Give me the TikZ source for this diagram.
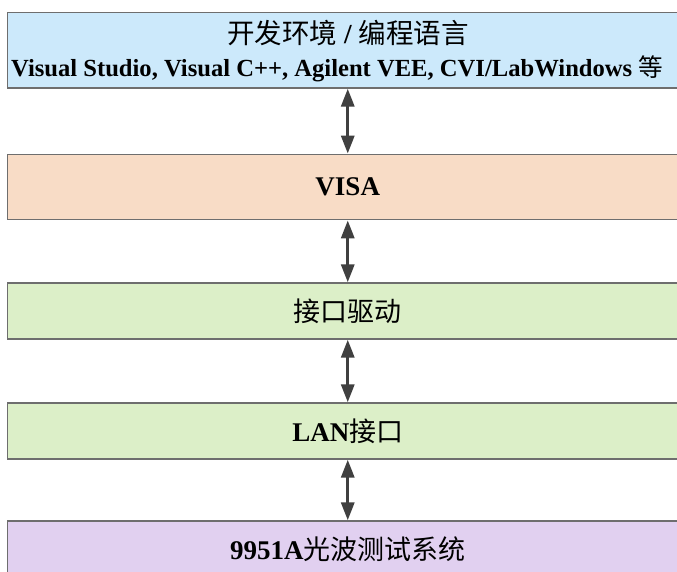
\documentclass[tikz,border=0pt]{standalone}
\usepackage{fontspec}
\setmainfont{Liberation Serif}
\newfontfamily\cjk{Noto Sans CJK SC}
\usetikzlibrary{arrows.meta}
\definecolor{bordergray}{RGB}{110,110,110}
\definecolor{arrowgray}{RGB}{64,64,64}
\definecolor{boxblue}{RGB}{204,233,251}
\definecolor{boxpeach}{RGB}{248,220,198}
\definecolor{boxgreen}{RGB}{220,239,200}
\definecolor{boxpurple}{RGB}{225,208,240}
\tikzset{
  layer/.style={draw=bordergray, line width=1.3pt, rectangle, minimum width=680.5pt, inner sep=0pt, font=\fontsize{27}{32}\selectfont},
  dblarrow/.style={draw=arrowgray, line width=3.2pt, {Triangle[length=18pt,width=13pt]}-{Triangle[length=18pt,width=13pt]}},
  lbl/.style={inner sep=0pt}
}
\begin{document}
\begin{tikzpicture}[x=1pt,y=-1pt]
\clip (0,0) rectangle (677,572);
\fill[white] (0,0) rectangle (677,572);
\node[layer, fill=boxblue, minimum height=75.3pt] (top) at (347.75,50.35) {};
\node[lbl, font=\fontsize{27.5}{32}\selectfont] (t1) at (348,33) {{\cjk 开发环境} {\bfseries /} {\cjk 编程语言}};
\node[lbl, anchor=base west, font=\fontsize{24.6}{28}\selectfont\bfseries] (t2) at (11,77) {Visual Studio, Visual C++, Agilent VEE, CVI/LabWindows {\cjk\mdseries 等}};
\node[layer, fill=boxpeach, minimum height=65.5pt] (visa) at (347.75,187) {\bfseries VISA};
\node[layer, fill=boxgreen, minimum height=56pt] (drv) at (347.75,311) {\cjk 接口驱动};
\node[layer, fill=boxgreen, minimum height=56pt] (lan) at (347.75,431) {{\bfseries LAN}{\cjk 接口}};
\node[layer, fill=boxpurple, minimum height=56pt] (sys) at (347.75,549) {{\bfseries 9951A}{\cjk 光波测试系统}};
\draw[dblarrow] (top.south) -- (visa.north);
\draw[dblarrow] (visa.south) -- (drv.north);
\draw[dblarrow] (drv.south) -- (lan.north);
\draw[dblarrow] (lan.south) -- (sys.north);
\end{tikzpicture}
\end{document}
